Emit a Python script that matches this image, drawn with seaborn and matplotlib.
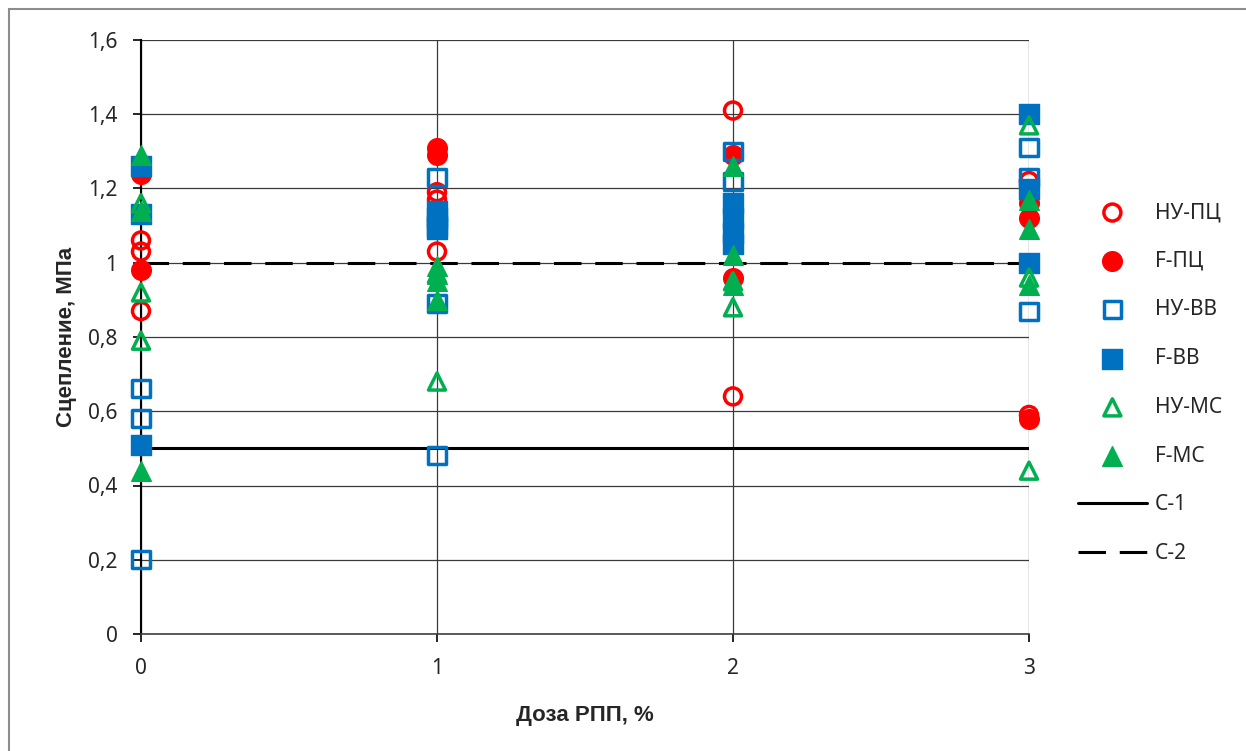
import matplotlib
matplotlib.use("Agg")
import matplotlib.pyplot as plt
import seaborn as sns
import pandas as pd
from matplotlib.patches import Rectangle
from matplotlib.ticker import FuncFormatter, MultipleLocator

# DATA
labels = ["НУ-ПЦ", "F-ПЦ", "НУ-ВВ", "F-ВВ", "НУ-МС", "F-МС"]

nu_pc_x = [0, 0, 0, 1, 1, 1, 2, 2, 3, 3]
nu_pc_y = [1.06, 1.03, 0.87, 1.19, 1.17, 1.03, 1.41, 0.64, 1.22, 0.59]

f_pc_x = [0, 0, 1, 1, 2, 2, 2, 3, 3, 3]
f_pc_y = [1.24, 0.98, 1.31, 1.29, 1.29, 1.12, 0.96, 1.16, 1.12, 0.58]

nu_vv_x = [0, 0, 0, 1, 1, 1, 2, 2, 3, 3, 3]
nu_vv_y = [0.66, 0.58, 0.20, 1.23, 0.89, 0.48, 1.30, 1.22, 1.31, 1.23, 0.87]

f_vv_x = [0, 0, 0, 1, 1, 1, 1, 2, 2, 2, 2, 3, 3, 3]
f_vv_y = [1.26, 1.13, 0.51, 1.14, 1.12, 1.10, 1.09, 1.16, 1.12, 1.08, 1.05, 1.40, 1.20, 1.00]

nu_mc_x = [0, 0, 0, 1, 1, 2, 2, 3, 3, 3]
nu_mc_y = [1.16, 0.92, 0.79, 0.97, 0.68, 0.95, 0.88, 1.37, 0.96, 0.44]

f_mc_x = [0, 0, 0, 1, 1, 1, 1, 2, 2, 2, 3, 3, 3]
f_mc_y = [1.29, 1.14, 0.44, 0.99, 0.97, 0.95, 0.90, 1.26, 1.02, 0.94, 1.17, 1.09, 0.94]

# reference levels
c1_label, c1_value = "С-1", 0.5
c2_label, c2_value = "С-2", 1.0
dose_range = [0, 3]

# STYLE
sns.set_style("white")
plt.rcParams["font.family"] = ["Noto Sans", "DejaVu Sans"]

RED, BLUE, GREEN = "#FF0000", "#0070C0", "#00B050"
series = [
    (nu_pc_x, nu_pc_y, "o", RED, False),
    (f_pc_x, f_pc_y, "o", RED, True),
    (nu_vv_x, nu_vv_y, "s", BLUE, False),
    (f_vv_x, f_vv_y, "s", BLUE, True),
    (nu_mc_x, nu_mc_y, "^", GREEN, False),
    (f_mc_x, f_mc_y, "^", GREEN, True),
]

fig = plt.figure(figsize=(12.46, 7.51), dpi=100)
ax = fig.add_axes([141 / 1246, 1 - 634 / 751, (1029 - 141) / 1246, (634 - 40) / 751])

# Reference lines
ln_c1, = ax.plot(dose_range, [c1_value, c1_value], color="black", lw=2.2,
                 label=c1_label, zorder=2)
ln_c2, = ax.plot(dose_range, [c2_value, c2_value], color="black", lw=2.2,
                 dashes=(9, 4.5), label=c2_label, zorder=2)

# Points
handles = []
for (xs, ys, marker, color, filled), label in zip(series, labels):
    df = pd.DataFrame({"dose": xs, "adhesion": ys})
    if filled:
        kws = dict(color=color, edgecolor=color)
        size, lw = 200, 1.0
    else:
        kws = dict(facecolor="none", edgecolor=color)
        size, lw = 150, 2.5
    sns.scatterplot(data=df, x="dose", y="adhesion", marker=marker, s=size,
                    clip_on=False, zorder=3, ax=ax, legend=False, **kws)
    pts = ax.collections[-1]
    pts.set_linewidth(lw)
    handles.append(pts)

# Limits, ticks
ax.set_xlim(0, 3)
ax.set_ylim(0, 1.6)
ax.xaxis.set_major_locator(MultipleLocator(1))
ax.yaxis.set_major_locator(MultipleLocator(0.2))
ax.yaxis.set_major_formatter(
    FuncFormatter(lambda v, p: f"{round(v, 2):g}".replace(".", ",")))
ax.tick_params(axis="both", direction="out", length=6, width=1.2,
               color="black", labelsize=15, pad=11, left=True, bottom=True)

# Grid and spines
ax.grid(True, color="#3a3a3a", lw=0.9)
ax.set_axisbelow(True)
for side in ["top", "right"]:
    ax.spines[side].set_visible(False)
ax.spines["left"].set_color("black")
ax.spines["left"].set_linewidth(1.5)
ax.spines["bottom"].set_color("#404040")
ax.spines["bottom"].set_linewidth(1.2)

# Labels
ax.set_xlabel("Доза РПП, %", fontsize=16, fontweight="bold",
              family="Liberation Sans", labelpad=19)
ax.set_ylabel("Сцепление, МПа", fontsize=16, fontweight="bold",
              family="Liberation Sans", labelpad=8)

# Legend
fig.legend(
    handles + [ln_c1, ln_c2],
    labels + [c1_label, c2_label],
    loc="center left",
    bbox_to_anchor=(1078 / 1246, 1 - 383 / 751),
    frameon=False,
    fontsize=15,
    scatterpoints=1,
    handlelength=3.3,
    handletextpad=0.4,
    labelspacing=1.33,
    borderpad=0,
    borderaxespad=0,
)

# Chart area border (only left/top visible in the crop)
fig.patches.append(Rectangle((9 / 1246, -0.2), 2, 1.2 - 9 / 751,
                             transform=fig.transFigure, fill=False,
                             edgecolor="#8c8c8c", lw=1.5))

fig.savefig("out.png", dpi=100)
